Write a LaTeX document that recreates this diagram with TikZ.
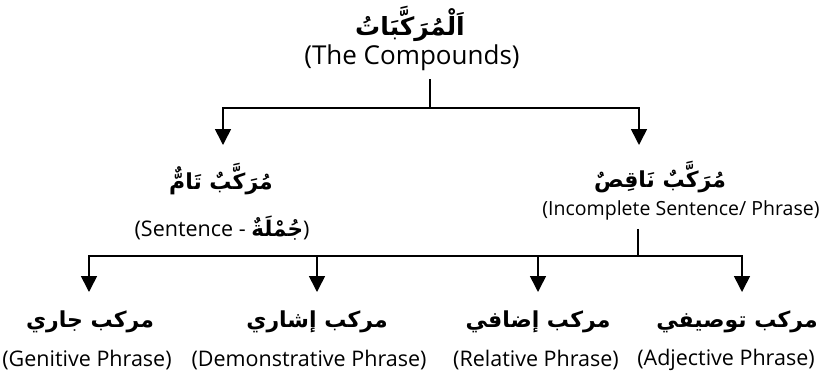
\documentclass[tikz,border=0pt]{standalone}
\usepackage{fontspec}
\setmainfont{Open Sans}
\newfontfamily\arabicfont[Script=Arabic]{DejaVu Sans}
\TeXXeTstate=1
\usetikzlibrary{arrows.meta}
\tikzset{
  artext/.style={font=\arabicfont\bfseries\fontsize{22}{26}\selectfont, inner sep=2pt},
  entext/.style={font=\fontsize{21.5}{25}\selectfont, inner sep=2pt},
  branch/.style={line width=1.6pt},
  arr/.style={branch, -{Triangle[width=16pt,length=16pt]}}
}
\begin{document}
\begin{tikzpicture}[x=1pt,y=-1pt]
		\useasboundingbox (0,0) rectangle (827,376);
		% top level
		\node[artext, font=\arabicfont\bfseries\fontsize{25}{30}\selectfont] (root) at (410,24) {\beginR اَلْمُرَكَّبَاتُ\endR};
		\node[entext, font=\fontsize{26}{30}\selectfont] (rooten) at (412,58) {(The Compounds)};
		
		% second level
		\node[artext] (tam) at (221,179) {\beginR مُرَكَّبٌ تَامٌّ\endR};
		\node[entext] (tamen) at (222,228) {(Sentence - {\arabicfont\bfseries\beginR جُمْلَةٌ\endR})};
		\node[artext] (naqis) at (660,177) {\beginR مُرَكَّبٌ نَاقِصٌ\endR};
		\node[entext, font=\fontsize{19.5}{23}\selectfont] (naqisen) at (681,210) {(Incomplete Sentence/ Phrase)};
		
		% third level
		\node[artext] (jari) at (90,322) {\beginR مركب جاري\endR};
		\node[entext] (jarien) at (87,360) {(Genitive Phrase)};
		\node[artext] (ishari) at (317,322) {\beginR مركب إشاري\endR};
		\node[entext] (isharien) at (309,360) {(Demonstrative Phrase)};
		\node[artext] (idafi) at (538,322) {\beginR مركب إضافي\endR};
		\node[entext] (idafien) at (536,360) {(Relative Phrase)};
		\node[artext] (tawsifi) at (737,322) {\beginR مركب توصيفي\endR};
		\node[entext] (tawsifien) at (726,360) {(Adjective Phrase)};
		
		% junctions and arrow tips
		\coordinate (j1) at (430,108);
		\coordinate (j2) at (638,256);
		\coordinate (tiptam) at (223,145);
		\coordinate (tipnaqis) at (639,145);
		\coordinate (tipjari) at (89,292);
		\coordinate (tipishari) at (317,292);
		\coordinate (tipidafi) at (538,292);
		\coordinate (tiptawsifi) at (742,292);
		
		\draw[branch] ([yshift=-6pt]rooten.south -| j1) -- (j1);
		\draw[arr] (j1) -| (tiptam);
		\draw[arr] (j1) -| (tipnaqis);
		
		\draw[branch] ([yshift=-7pt]naqisen.south -| j2) -- (j2);
		\draw[arr] (j2) -| (tipjari);
		\draw[arr] (j2) -| (tipishari);
		\draw[arr] (j2) -| (tipidafi);
		\draw[arr] (j2) -| (tiptawsifi);
	\end{tikzpicture}
\end{document}
